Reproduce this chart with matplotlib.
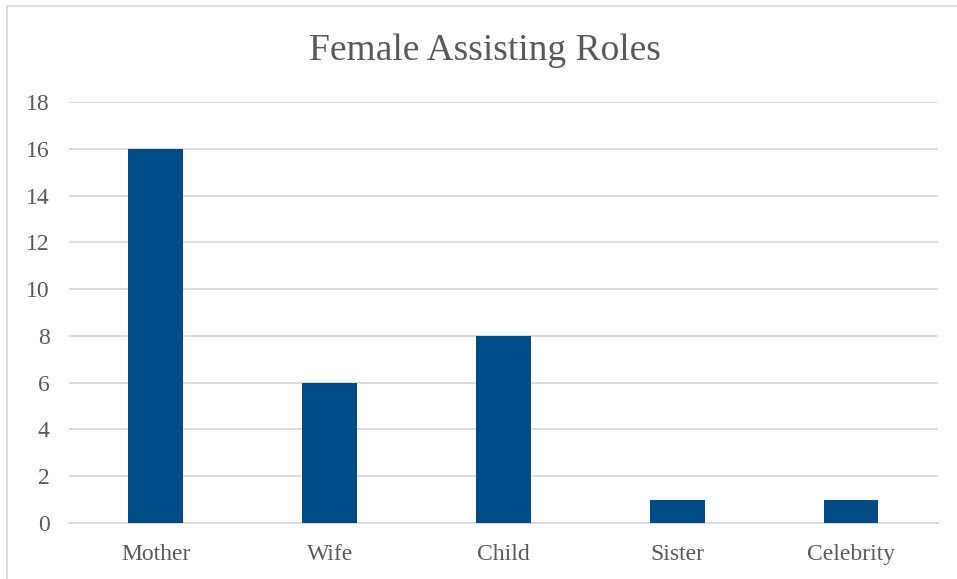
import matplotlib.pyplot as plt
from matplotlib.patches import Rectangle

roles = ["Mother", "Wife", "Child", "Sister", "Celebrity"]
counts = [16, 6, 8, 1, 1]
yticks = [0, 2, 4, 6, 8, 10, 12, 14, 16, 18]

plt.rcParams['font.family'] = ['Liberation Serif', 'DejaVu Serif']
text_col = '#595959'

fig = plt.figure(figsize=(9.57, 5.79), dpi=100)
ax = fig.add_axes([0.0721, 0.0967, 0.9079, 0.7271])

x = range(len(roles))
ax.bar(x, counts, width=0.316, color='#004A86', zorder=3)

ax.set_xlim(-0.5, len(roles) - 0.5)
ax.set_ylim(0, 18)
ax.set_yticks(yticks)
ax.set_xticks(list(x))
ax.set_xticklabels(roles)
ax.grid(axis='y', color='#d9d9d9', linewidth=1.3, zorder=0)
for s in ['top', 'right', 'left']:
    ax.spines[s].set_visible(False)
ax.spines['bottom'].set_color('#d9d9d9')
ax.spines['bottom'].set_linewidth(1.3)
ax.tick_params(axis='both', length=0, labelsize=17, colors=text_col)
ax.tick_params(axis='y', pad=14)
ax.tick_params(axis='x', pad=15)

fig.text(0.507, 0.912, "Female Assisting Roles", ha='center', va='center',
         fontsize=27, color=text_col)

# chart frame
fig.patches.append(Rectangle((7 / 957, -0.1), 1.2, 1.0 - 6 / 579 + 0.1,
                             transform=fig.transFigure, fill=False,
                             edgecolor='#d9d9d9', linewidth=1.3))

fig.savefig('out.png', dpi=100)
